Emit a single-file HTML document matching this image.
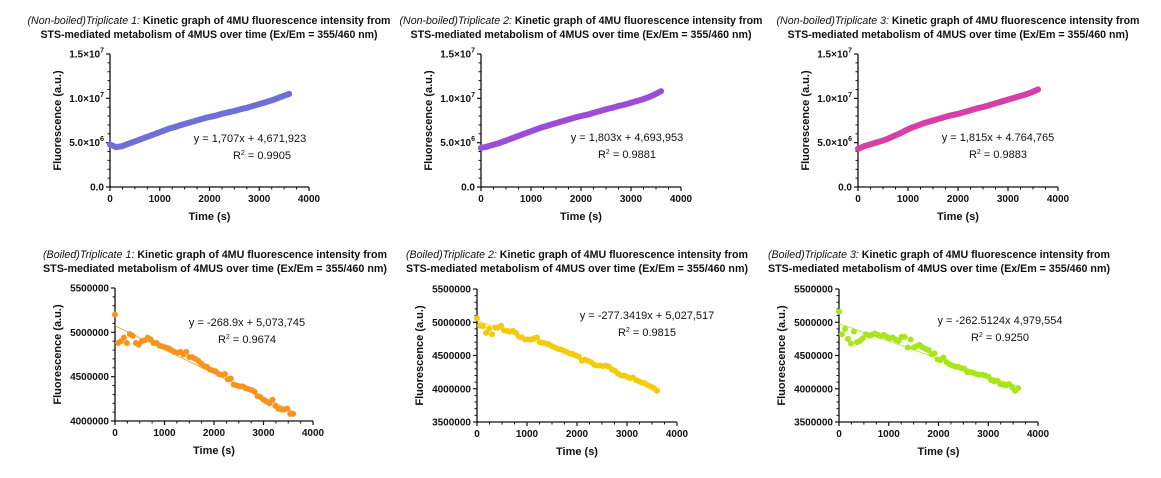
<!DOCTYPE html>
<html><head><meta charset="utf-8">
<style>
html,body{margin:0;padding:0;background:#fff;}
svg{display:block;font-family:"Liberation Sans",Arial,sans-serif;}
.tk{font-size:10px;font-weight:bold;fill:#111;}
.ax{font-size:11px;font-weight:bold;fill:#111;}
.eq{font-size:11px;fill:#111;}
.tt{font-size:11px;font-weight:bold;fill:#111;}
</style></head>
<body>
<svg id="root" width="1161" height="478" viewBox="0 0 1161 478"></svg>
<script>
// Time axis (s)
const timesDense = [0,120,240,360,480,600,720,840,960,1080,1200,1320,1440,1560,1680,1800,1920,2040,2160,2280,2400,2520,2640,2760,2880,3000,3120,3240,3360,3480,3600];
const timesSparse = [0,60,120,180,240,300,360,420,480,540,600,660,720,780,840,900,960,1020,1080,1140,1200,1260,1320,1380,1440,1500,1560,1620,1680,1740,1800,1860,1920,1980,2040,2100,2160,2220,2280,2340,2400,2460,2520,2580,2640,2700,2760,2820,2880,2940,3000,3060,3120,3180,3240,3300,3360,3420,3480,3540,3600];
// Non-boiled series (x1e6)
const nb1 = [4.8,4.5,4.6,4.85,5.1,5.35,5.6,5.85,6.1,6.35,6.6,6.8,7.0,7.2,7.4,7.6,7.8,7.95,8.1,8.3,8.45,8.6,8.8,8.95,9.15,9.35,9.55,9.75,10.0,10.25,10.5];
const nb2 = [4.4,4.55,4.75,4.95,5.2,5.45,5.7,5.95,6.2,6.45,6.7,6.9,7.1,7.3,7.5,7.7,7.9,8.05,8.2,8.4,8.6,8.8,8.95,9.15,9.3,9.5,9.7,9.9,10.15,10.45,10.8];
const nb3 = [4.3,4.6,4.8,5.0,5.2,5.45,5.75,6.05,6.4,6.7,6.95,7.2,7.4,7.6,7.8,8.0,8.15,8.3,8.5,8.7,8.9,9.05,9.25,9.45,9.65,9.85,10.05,10.25,10.45,10.7,11.0];
// Boiled series (x1e3)
const b1 = [5200,4880,4900,4940,4880,4980,4960,4880,4860,4900,4910,4940,4920,4880,4880,4850,4840,4830,4820,4800,4780,4770,4780,4750,4780,4720,4720,4700,4680,4650,4620,4610,4580,4570,4560,4530,4520,4530,4470,4480,4410,4400,4390,4390,4370,4360,4350,4330,4280,4270,4240,4220,4200,4240,4170,4140,4130,4130,4140,4080,4080];
const b2 = [5060,4950,4940,4840,4900,4820,4920,4920,4950,4880,4870,4860,4870,4840,4780,4770,4740,4740,4740,4760,4770,4700,4690,4680,4670,4640,4620,4600,4590,4570,4550,4530,4520,4500,4480,4420,4440,4420,4400,4360,4350,4350,4340,4350,4330,4290,4270,4230,4200,4200,4180,4160,4170,4130,4110,4090,4080,4050,4030,4010,3970];
const b3 = [5160,4820,4900,4750,4680,4860,4700,4720,4760,4820,4800,4810,4830,4810,4790,4810,4780,4760,4770,4740,4720,4780,4780,4620,4740,4620,4640,4660,4620,4600,4580,4520,4530,4440,4430,4470,4400,4370,4350,4330,4330,4310,4300,4250,4250,4240,4220,4210,4210,4200,4180,4130,4110,4120,4070,4060,4050,4070,4020,3970,4010];
// Fit parameters
const fitSlopes = [1707,1803,1815,-268.9,-277.3419,-262.5124];
const fitIntercepts = [4671923,4693953,4764765,5073745,5027517,4979554];
const xTicks = [0,1000,2000,3000,4000];
const yTicksTop = [0,5e6,1e7,1.5e7];
const yTickLabelsTop = [["0.0",""],["5.0×10","6"],["1.0×10","7"],["1.5×10","7"]];
const yTicksB1 = [4000000,4500000,5000000,5500000];
const yTicksB23 = [3500000,4000000,4500000,5000000,5500000];

const NS="http://www.w3.org/2000/svg";
const root=document.getElementById('root');
function el(tag,attrs,parent){const e=document.createElementNS(NS,tag);for(const k in attrs)e.setAttribute(k,attrs[k]);(parent||root).appendChild(e);return e;}

const panels=[
 {id:'nb1',x0:110,x1:309,yt:54,yb:187,ymin:0,ymax:1.5e7,ticks:yTicksTop,labels:yTickLabelsTop,minor:5,t:timesDense,v:nb1,scale:1e6,color:'#6e70d8',line:true,
  pre:'(Non-boiled)Triplicate 1:',tcx:209,w1:363,w2:337,ty1:24,ty2:38,eq:'y = 1,707x + 4,671,923',r2:'0.9905',ex:250,ey:142,rx:262,ry:159,fi:0,fit:false},
 {id:'nb2',x0:481,x1:681,yt:54,yb:187,ymin:0,ymax:1.5e7,ticks:yTicksTop,labels:yTickLabelsTop,minor:5,t:timesDense,v:nb2,scale:1e6,color:'#9b4cd8',line:true,
  pre:'(Non-boiled)Triplicate 2:',tcx:581,w1:363,w2:341,ty1:24,ty2:38,eq:'y = 1,803x + 4,693,953',r2:'0.9881',ex:627,ey:141,rx:627,ry:158,fi:1,fit:false},
 {id:'nb3',x0:858,x1:1058,yt:54,yb:187,ymin:0,ymax:1.5e7,ticks:yTicksTop,labels:yTickLabelsTop,minor:5,t:timesDense,v:nb3,scale:1e6,color:'#d63ea8',line:true,
  pre:'(Non-boiled)Triplicate 3:',tcx:958,w1:363,w2:341,ty1:24,ty2:38,eq:'y = 1,815x + 4.764,765',r2:'0.9883',ex:998,ey:141,rx:998,ry:158,fi:2,fit:false},
 {id:'b1',x0:115,x1:313,yt:288,yb:421,ymin:4000000,ymax:5500000,ticks:yTicksB1,labels:null,minor:5,t:timesSparse,v:b1,scale:1e3,color:'#f7941d',line:false,
  pre:'(Boiled)Triplicate 1:',tcx:215,w1:344,w2:344,ty1:258,ty2:272,eq:'y = -268.9x + 5,073,745',r2:'0.9674',ex:247,ey:326,rx:247,ry:343,fi:3,fit:true},
 {id:'b2',x0:477,x1:677,yt:289,yb:422,ymin:3500000,ymax:5500000,ticks:yTicksB23,labels:null,minor:5,t:timesSparse,v:b2,scale:1e3,color:'#f2cc0a',line:false,
  pre:'(Boiled)Triplicate 2:',tcx:577,w1:342,w2:342,ty1:258,ty2:272,eq:'y = -277.3419x + 5,027,517',r2:'0.9815',ex:647,ey:319,rx:647,ry:336,fi:4,fit:true},
 {id:'b3',x0:839,x1:1038,yt:289,yb:422,ymin:3500000,ymax:5500000,ticks:yTicksB23,labels:null,minor:5,t:timesSparse,v:b3,scale:1e3,color:'#a6e61a',line:false,
  pre:'(Boiled)Triplicate 3:',tcx:939,w1:342,w2:342,ty1:258,ty2:272,eq:'y = -262.5124x 4,979,554',r2:'0.9250',ex:1000,ey:324,rx:1000,ry:341,fi:5,fit:true}
];

panels.forEach(p=>{
  const g=el('g',{});
  
  
  const xs=t=>p.x0+(t/4000)*(p.x1-p.x0);
  const ys=v=>p.yb-(v-p.ymin)/(p.ymax-p.ymin)*(p.yb-p.yt);
  // title
  const t1=el('text',{x:p.tcx-p.w1/2,y:p.ty1,class:'tt',textLength:p.w1,lengthAdjust:'spacingAndGlyphs'},g);
  
  
  const s1=el('tspan',{'font-style':'italic','font-weight':'normal'},t1);s1.textContent=p.pre+' ';
  const s2=el('tspan',{},t1);s2.textContent='Kinetic graph of 4MU fluorescence intensity from';
  const t2=el('text',{x:p.tcx-p.w2/2,y:p.ty2,class:'tt',textLength:p.w2,lengthAdjust:'spacingAndGlyphs'},g);
  
  
  t2.textContent='STS-mediated metabolism of 4MUS over time (Ex/Em = 355/460 nm)';
  // axes
  const ax=el('path',{d:`M${p.x0},${p.yt} V${p.yb} H${p.x1}`,stroke:'#111','stroke-width':1.3,fill:'none'},g);
  
  
  // y ticks
  for(let i=0;i<p.ticks.length;i++){
    const yv=ys(p.ticks[i]);
    el('line',{x1:p.x0-4,x2:p.x0,y1:yv,y2:yv,stroke:'#111','stroke-width':1.2},g);
    const lb=el('text',{x:p.x0-6,y:yv+3.5,'text-anchor':'end',class:'tk'},g);
    
    
    if(p.labels){const a=el('tspan',{},lb);a.textContent=p.labels[i][0];
      if(p.labels[i][1]){const b=el('tspan',{dy:-5,'font-size':7},lb);b.textContent=p.labels[i][1];}}
    else lb.textContent=String(p.ticks[i]);
    if(i<p.ticks.length-1){const step=(p.ticks[i+1]-p.ticks[i])/p.minor;
      for(let k=1;k<p.minor;k++){const ym=ys(p.ticks[i]+k*step);el('line',{x1:p.x0-2.5,x2:p.x0,y1:ym,y2:ym,stroke:'#111','stroke-width':1},g);}}
  }
  // x ticks
  for(let i=0;i<xTicks.length;i++){
    const xv=xs(xTicks[i]);
    el('line',{x1:xv,x2:xv,y1:p.yb,y2:p.yb+4,stroke:'#111','stroke-width':1.2},g);
    const lb=el('text',{x:xv,y:p.yb+15,'text-anchor':'middle',class:'tk'},g);
    
    
    lb.textContent=xTicks[i];
    if(i<xTicks.length-1){for(let k=1;k<4;k++){const xm=xs(xTicks[i]+k*250);el('line',{x1:xm,x2:xm,y1:p.yb,y2:p.yb+2.5,stroke:'#111','stroke-width':1},g);}}
  }
  const xt=el('text',{x:(p.x0+p.x1)/2,y:p.yb+33,'text-anchor':'middle',class:'ax'},g);
  
  
  xt.textContent='Time (s)';
  const yx=p.x0-(p.labels?53:58), ym=(p.yt+p.yb)/2;
  const yt=el('text',{x:yx,y:ym,'text-anchor':'middle',class:'ax',transform:`rotate(-90 ${yx} ${ym})`,dy:4},g);
  
  
  yt.textContent='Fluorescence (a.u.)';
  // data
  if(p.line){
    const pts=p.t.map((t,i)=>xs(t)+','+ys(p.v[i]*p.scale)).join(' ');
    const pl=el('polyline',{points:pts,fill:'none',stroke:p.color,'stroke-width':6,'stroke-linejoin':'round','stroke-linecap':'round'},g);
    
    
  }
  p.t.forEach((t,i)=>{
    const c=el('circle',{cx:xs(t),cy:ys(p.v[i]*p.scale),r:3,fill:p.color},g);
    
    
  });
  if(p.fit){
    const y0=fitIntercepts[p.fi], y1=fitIntercepts[p.fi]+fitSlopes[p.fi]*3600;
    const fl=el('line',{x1:xs(0),y1:ys(y0),x2:xs(3600),y2:ys(y1),stroke:p.color,'stroke-width':1,opacity:0.8},g);
    
    
  }
  const eq=el('text',{x:p.ex,y:p.ey,'text-anchor':'middle',class:'eq'},g);
  
  
  eq.textContent=p.eq;
  const r2=el('text',{x:p.rx,y:p.ry,'text-anchor':'middle',class:'eq'},g);
  
  
  const ra=el('tspan',{},r2);ra.textContent='R';
  const rb=el('tspan',{dy:-4,'font-size':7},r2);rb.textContent='2';
  const rc=el('tspan',{dy:4},r2);rc.textContent=' = '+p.r2;
});
</script>
</body></html>
